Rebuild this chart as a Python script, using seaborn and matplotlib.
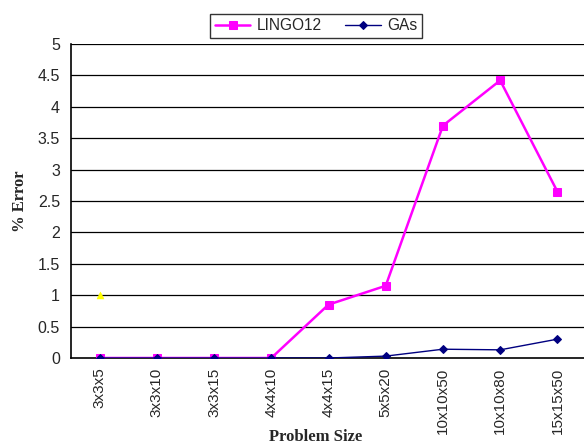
import matplotlib
matplotlib.use("Agg")
import matplotlib.pyplot as plt
import seaborn as sns
import pandas as pd

categories = ["3x3x5", "3x3x10", "3x3x15", "4x4x10", "4x4x15", "5x5x20", "10x10x50", "10x10x80", "15x15x50"]
lingo12 = [0, 0, 0, 0, 0.85, 1.15, 3.7, 4.42, 2.65]
gas = [0, 0, 0, 0, 0, 0.03, 0.14, 0.13, 0.3]
stray_cat = ["3x3x5"]
stray_val = [1.0]
yticks = [0, 0.5, 1, 1.5, 2, 2.5, 3, 3.5, 4, 4.5, 5]

sns.set_style("white")
plt.rcParams['font.family'] = ['Liberation Sans', 'DejaVu Sans']

fig = plt.figure(figsize=(5.84, 4.46), dpi=100)
ax = fig.add_axes([71/584, (446-358)/446, (586-71)/584, 314/446])

x = list(range(len(categories)))
df = pd.DataFrame({"x": x, "LINGO12": lingo12, "GAs": gas})

sns.lineplot(data=df, x="x", y="LINGO12", ax=ax, color="#FF00FF", lw=1.8,
             marker="s", markersize=6, markeredgecolor="#FF00FF", label="LINGO12", zorder=3)
sns.lineplot(data=df, x="x", y="GAs", ax=ax, color="#000080", lw=1.0,
             marker="D", markersize=3.8, markeredgecolor="#000080", label="GAs", zorder=4)
sns.scatterplot(x=[categories.index(c) for c in stray_cat], y=stray_val, ax=ax,
                marker="^", color="#FFFF00", s=25, edgecolor="#FFFF00", zorder=4, legend=False)

ax.set_xlim(-0.5, len(categories) - 0.5)
ax.set_ylim(0, 5)
ax.set_yticks(yticks)
ax.set_yticklabels([f"{v:g}" for v in yticks], fontsize=11.5)
ax.set_xticks(x)
ax.set_xticklabels(categories, rotation=90, fontsize=11)
ax.tick_params(axis='y', direction='out', length=5, width=1, color='black', pad=3)
ax.tick_params(axis='x', length=0, pad=7)
for yv in yticks[1:]:
    ax.axhline(yv, color='black', lw=0.9, zorder=1)
for s in ['top', 'right']:
    ax.spines[s].set_visible(False)
for s in ['left', 'bottom']:
    ax.spines[s].set_color('black')
    ax.spines[s].set_linewidth(1.2)

ax.set_xlabel("")
fig.text(316/584, 1 - 437/446, "Problem Size", fontsize=12, fontweight='bold',
         family=['Liberation Serif'], ha='center', va='center')
ax.set_ylabel("% Error", fontsize=12, fontweight='bold', family=['Liberation Serif'], labelpad=7)

leg = ax.legend(loc='upper center', bbox_to_anchor=(316/584, 1 - 6/446), bbox_transform=fig.transFigure,
                ncol=2, frameon=True, fontsize=11.2, fancybox=False, handlelength=2.3,
                borderpad=0.3, columnspacing=1.5, handletextpad=0.4)
leg.get_frame().set_edgecolor('black')
leg.get_frame().set_linewidth(1.0)

fig.savefig("out.png", dpi=100)
